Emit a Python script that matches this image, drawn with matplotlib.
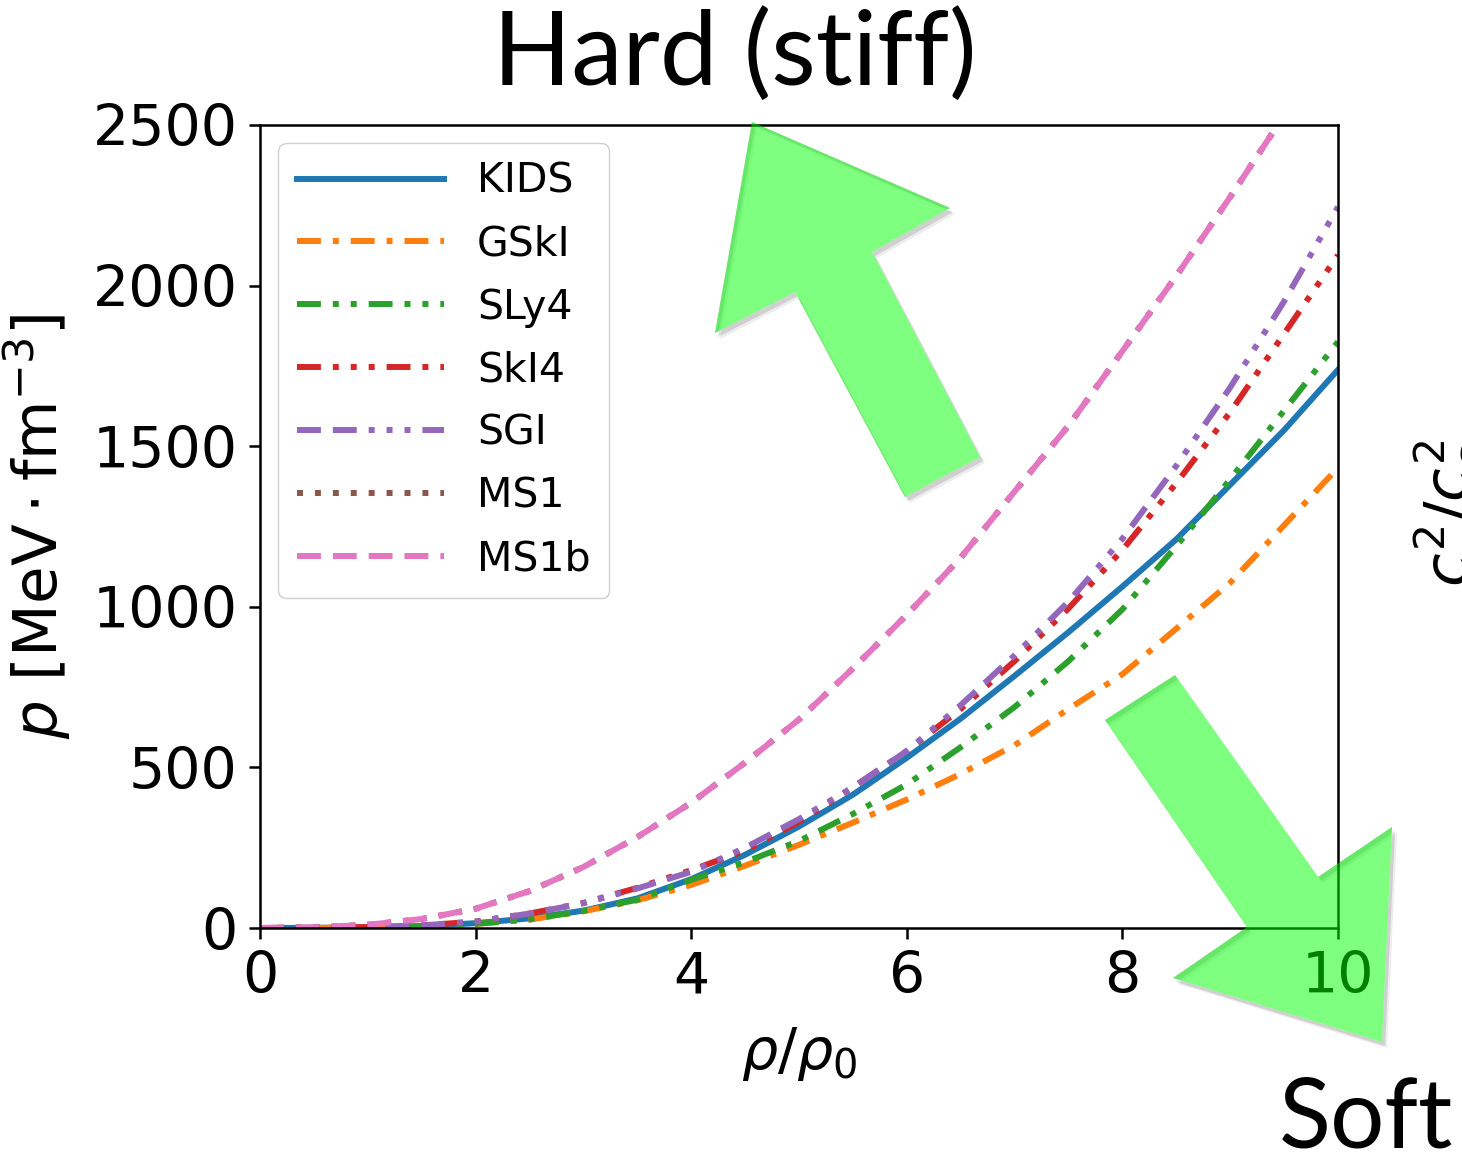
import matplotlib
matplotlib.use("Agg")
import matplotlib.pyplot as plt
from matplotlib.patches import Polygon, PathPatch
from matplotlib.path import Path

# density in units of rho_0
rho = [0, 0.5, 1, 1.5, 2, 2.5, 3, 3.5, 4, 4.5, 5,
       5.5, 6, 6.5, 7, 7.5, 8, 8.5, 9, 9.5, 10]

# pressure [MeV fm^-3]
p_kids = [0, 0.5, 2, 6, 15, 30, 54, 92, 152, 228, 316,
          415, 530, 652, 785, 921, 1063, 1210, 1380, 1550, 1738]
p_gski = [0, 0.5, 2, 5, 13, 26, 52, 86, 134, 194, 259,
          328, 400, 480, 569, 682, 790, 932, 1075, 1254, 1433]
p_sly4 = [0, 0.5, 2, 5, 13, 27, 53, 88, 150, 205, 271,
          355, 447, 563, 688, 831, 992, 1189, 1397, 1611, 1825]
p_ski4 = [0, 1, 3, 8, 20, 45, 78, 125, 180, 241, 331,
          438, 551, 682, 831, 995, 1177, 1385, 1606, 1850, 2095]
p_sgi = [0, 1, 3, 8, 20, 45, 77, 123, 175, 250, 339,
         438, 551, 694, 849, 1016, 1212, 1439, 1683, 1951, 2245]
p_ms1 = [0, 2, 10, 28, 60, 115, 190, 283, 390, 515, 649,
         808, 975, 1153, 1359, 1564, 1796, 2030, 2276, 2530, 2790]
p_ms1b = [0, 2, 10, 28, 60, 115, 190, 283, 390, 515, 649,
          808, 975, 1153, 1359, 1564, 1796, 2030, 2276, 2530, 2790]

names = ["KIDS", "GSkI", "SLy4", "SkI4", "SGI", "MS1", "MS1b"]
series = [p_kids, p_gski, p_sly4, p_ski4, p_sgi, p_ms1, p_ms1b]
colors = ["#1f77b4", "#ff7f0e", "#2ca02c", "#d62728", "#9467bd", "#8c564b", "#e377c2"]
# dash patterns in units of line width
styles = [
    "-",
    (0, (4, 2, 1, 2)),
    (0, (4, 2, 1, 2, 1, 2)),
    (0, (4, 2, 1, 2, 1, 2, 1, 2)),
    (0, (4, 2, 4, 2, 1, 2, 1, 2, 1, 2)),
    (0, (1, 2)),
    (0, (4, 2)),
]

W, H = 1462, 1166
fig = plt.figure(figsize=(W / 100, H / 100), dpi=100)
ax = fig.add_axes([260 / W, 1 - 928 / H, (1338 - 260) / W, (928 - 125) / H])

for name, vals, c, ls in zip(names, series, colors, styles):
    ax.plot(rho, vals, color=c, linestyle=ls, lw=4.3, label=name)

ax.set_xlim(0, 10)
ax.set_ylim(0, 2500)
ax.set_xticks([0, 2, 4, 6, 8, 10])
ax.set_yticks([0, 500, 1000, 1500, 2000, 2500])
ax.tick_params(labelsize=41, length=8, width=1.8, pad=8)
for s in ax.spines.values():
    s.set_linewidth(1.8)

ax.set_xlabel(r"$\rho/\rho_0$", fontsize=41, labelpad=14)
ax.set_ylabel(r"$p\ [\mathrm{MeV}\cdot\mathrm{fm}^{-3}]$", fontsize=44, labelpad=14)

ax.legend(loc="upper left", fontsize=29.5, handlelength=3.6, handletextpad=0.8,
          labelspacing=0.56, borderpad=0.45, framealpha=1, edgecolor="#d0d0d0",
          borderaxespad=0.45)

# annotation texts
fig.text(735 / W, 1 - 55 / H, "Hard (stiff)", fontsize=74, family="Lato",
         ha="center", va="center")
fig.text(1366 / W, 1 - 1120 / H, "Soft", fontsize=69, family="Lato",
         ha="center", va="center")
fig.text(1413 / W, 1 - 513 / H, r"$c^2/c_s^2$", fontsize=44, rotation=90,
         ha="left", va="center")

# green arrows (pixel coords, y from top)
up_arrow = [(752, 122), (950, 208), (872, 252), (980, 457),
            (905, 497), (795, 292), (715, 333)]
down_arrow = [(1105, 720), (1175, 675), (1318, 877), (1392, 827),
              (1382, 1042), (1173, 978), (1247, 927)]


def to_fig(pts, dx=0, dy=0):
    return [((x + dx) / W, 1 - (y + dy) / H) for x, y in pts]


for pts in (up_arrow, down_arrow):
    # soft drop shadow, only outside the arrow itself
    for d, a in ((5, 0.07), (3, 0.12)):
        outer = to_fig(pts, d, d + 1)
        inner = to_fig(pts)[::-1]
        verts = outer + [outer[0]] + inner + [inner[0]]
        codes = ([Path.MOVETO] + [Path.LINETO] * (len(outer) - 1) + [Path.CLOSEPOLY]
                 + [Path.MOVETO] + [Path.LINETO] * (len(inner) - 1) + [Path.CLOSEPOLY])
        fig.add_artist(PathPatch(Path(verts, codes), transform=fig.transFigure,
                                 facecolor=(0, 0, 0, a), edgecolor="none", zorder=9))
    fig.add_artist(Polygon(to_fig(pts), closed=True, transform=fig.transFigure,
                           facecolor=(0, 1, 0, 0.5), edgecolor="none", zorder=10))

fig.savefig("out.png", dpi=100)
